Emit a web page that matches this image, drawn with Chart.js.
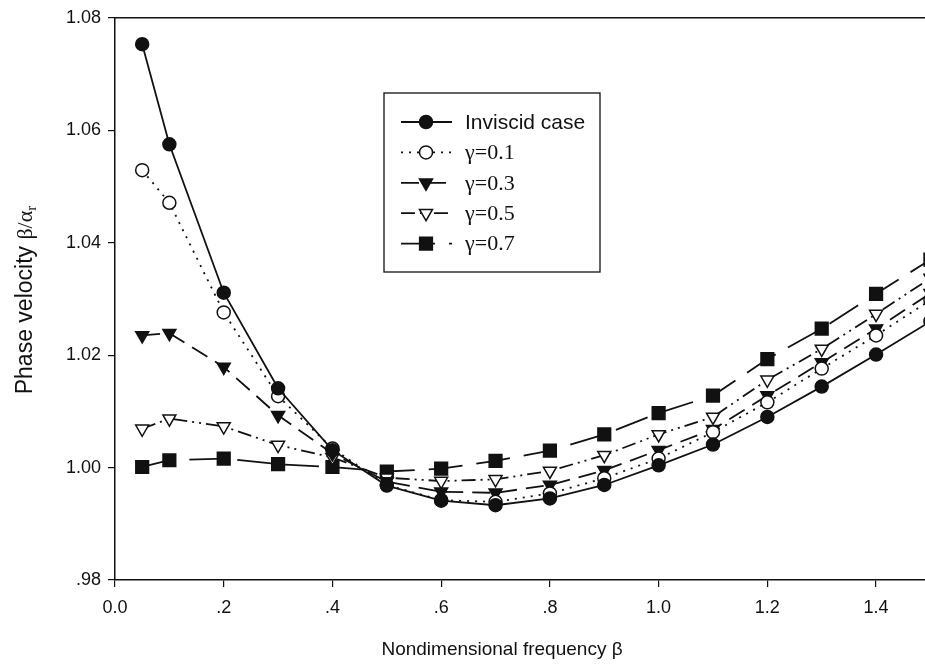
<!DOCTYPE html>
<html>
<head>
<meta charset="utf-8">
<script src="https://cdn.jsdelivr.net/npm/chart.js@4.4.0/dist/chart.umd.min.js"></script>
<style>
  html, body { margin: 0; padding: 0; background: #fff; }
  #wrap { width: 925px; height: 665px; }
</style>
</head>
<body>
<div id="wrap"><canvas id="phaseChart" width="925" height="665"></canvas></div>
<script>
// ===== DATA =====
const beta = [0.05, 0.1, 0.2, 0.3, 0.4, 0.5, 0.6, 0.7, 0.8, 0.9, 1.0, 1.1, 1.2, 1.3, 1.4, 1.5];

const inviscid = [1.0753, 1.0575, 1.0311, 1.0141, 1.0031, 0.9968, 0.9941, 0.9933, 0.9945, 0.9969, 1.0004, 1.0041, 1.0090, 1.0144, 1.0201, 1.0260];
const gamma01  = [1.0529, 1.0471, 1.0276, 1.0127, 1.0034, 0.9969, 0.9942, 0.9939, 0.9954, 0.9981, 1.0016, 1.0063, 1.0116, 1.0176, 1.0235, 1.0298];
const gamma03  = [1.0235, 1.0239, 1.0179, 1.0093, 1.0025, 0.9975, 0.9957, 0.9955, 0.9969, 0.9995, 1.0031, 1.0068, 1.0128, 1.0187, 1.0247, 1.0310];
const gamma05  = [1.0069, 1.0087, 1.0073, 1.0040, 1.0018, 0.9982, 0.9976, 0.9979, 0.9994, 1.0022, 1.0059, 1.0090, 1.0156, 1.0211, 1.0273, 1.0337];
const gamma07  = [1.0001, 1.0013, 1.0016, 1.0006, 1.0001, 0.9993, 0.9998, 1.0012, 1.0030, 1.0059, 1.0097, 1.0128, 1.0193, 1.0247, 1.0309, 1.0370];

const seriesLabels = ["Inviscid case", "\u03b3=0.1", "\u03b3=0.3", "\u03b3=0.5", "\u03b3=0.7"];
const xTicks = [0, 0.2, 0.4, 0.6, 0.8, 1.0, 1.2, 1.4];
const yTicks = [0.98, 1.00, 1.02, 1.04, 1.06, 1.08];

const INK = "#111";

// ===== HELPERS =====
function pts(ys) {
  return beta.map((b, i) => ({ x: b, y: ys[i] }));
}

function fmtX(v) {
  if (Math.abs(v) < 1e-9) return "0.0";
  const s = v.toFixed(1);
  return v < 1 ? s.substring(1) : s;
}

function fmtY(v) {
  const s = v.toFixed(2);
  return v < 1 ? s.substring(1) : s;
}

function makeSet(label, data, style, fill, dash, radius, rotation) {
  return {
    label: label,
    data: pts(data),
    borderColor: INK,
    borderWidth: 1.8,
    borderDash: dash,
    pointStyle: style,
    pointRotation: rotation || 0,
    pointRadius: radius,
    pointHoverRadius: radius,
    pointBackgroundColor: fill,
    pointBorderColor: INK,
    pointBorderWidth: 1.5,
    tension: 0,
    fill: false
  };
}

const datasets = [
  makeSet(seriesLabels[0], inviscid, "circle", INK, [], 6.5),
  makeSet(seriesLabels[1], gamma01, "circle", "#fff", [2, 6], 6.5),
  makeSet(seriesLabels[2], gamma03, "triangle", INK, [18, 9], 7.5, 180),
  makeSet(seriesLabels[3], gamma05, "triangle", "#fff", [14, 5, 2, 5, 2, 5], 7.5, 180),
  makeSet(seriesLabels[4], gamma07, "rect", INK, [34, 14], 9)
];

// ===== EXTRA DRAWING: frame top, axis titles, boxed legend =====
const decorations = {
  id: "decorations",
  afterDraw(chart) {
    const ctx = chart.ctx;
    const area = chart.chartArea;
    ctx.save();

    // top edge of the frame
    ctx.strokeStyle = INK;
    ctx.lineWidth = 1.5;
    ctx.beginPath();
    ctx.moveTo(area.left, area.top);
    ctx.lineTo(area.right, area.top);
    ctx.stroke();

    // x title
    ctx.fillStyle = INK;
    ctx.font = "19px 'Liberation Sans', Arial, sans-serif";
    ctx.textAlign = "center";
    ctx.textBaseline = "middle";
    ctx.fillText("Nondimensional frequency \u03b2", 502, 650);

    // y title with subscript
    ctx.save();
    ctx.translate(26, 300);
    ctx.rotate(-Math.PI / 2);
    ctx.textAlign = "left";
    ctx.textBaseline = "middle";
    const f1 = "23px 'Liberation Sans', Arial, sans-serif";
    const f2 = "22px 'Liberation Serif', 'Times New Roman', serif";
    const f3 = "15px 'Liberation Serif', 'Times New Roman', serif";
    const p1 = "Phase velocity ", p2 = "\u03b2/\u03b1", p3 = "r";
    ctx.font = f1; const w1 = ctx.measureText(p1).width;
    ctx.font = f2; const w2 = ctx.measureText(p2).width;
    ctx.font = f3; const w3 = ctx.measureText(p3).width;
    let x0 = -(w1 + w2 + w3) / 2;
    ctx.font = f1; ctx.fillText(p1, x0, 0); x0 += w1;
    ctx.font = f2; ctx.fillText(p2, x0, 0); x0 += w2;
    ctx.font = f3; ctx.fillText(p3, x0, 6);
    ctx.restore();

    // legend box
    const bx = 384, by = 93, bw = 216, bh = 179;
    ctx.lineWidth = 1.3;
    ctx.strokeRect(bx, by, bw, bh);

    chart.data.datasets.forEach((ds, i) => {
      const y = 122 + i * 30.4;
      ctx.save();
      ctx.strokeStyle = INK;
      ctx.lineWidth = ds.borderWidth;
      ctx.setLineDash(ds.borderDash);
      ctx.beginPath();
      ctx.moveTo(401, y);
      ctx.lineTo(452, y);
      ctx.stroke();
      ctx.restore();

      ctx.save();
      ctx.fillStyle = ds.pointBackgroundColor;
      ctx.strokeStyle = INK;
      ctx.lineWidth = ds.pointBorderWidth;
      Chart.helpers.drawPoint(ctx, {
        pointStyle: ds.pointStyle,
        rotation: ds.pointRotation,
        radius: ds.pointRadius,
        borderWidth: ds.pointBorderWidth
      }, 426, y);
      ctx.restore();

      ctx.fillStyle = INK;
      ctx.textAlign = "left";
      ctx.textBaseline = "middle";
      ctx.font = i === 0 ? "21px 'Liberation Sans', Arial, sans-serif"
                         : "22px 'Liberation Serif', 'Times New Roman', serif";
      ctx.fillText(ds.label, 465, y + 1);
    });

    ctx.restore();
  }
};

// ===== CHART =====
const ctx = document.getElementById("phaseChart").getContext("2d");

new Chart(ctx, {
  type: "line",
  data: { datasets: datasets },
  options: {
    responsive: false,
    animation: false,
    devicePixelRatio: 1,
    layout: { autoPadding: false, padding: { top: 17, right: 0, left: 0, bottom: 0 } },
    plugins: {
      legend: { display: false },
      tooltip: { enabled: false }
    },
    scales: {
      x: {
        type: "linear",
        min: 0,
        max: 1.49,
        afterBuildTicks: (scale) => { scale.ticks = xTicks.map(v => ({ value: v })); },
        afterFit: (scale) => { scale.height = 85; },
        border: { color: INK, width: 1.5 },
        grid: { drawOnChartArea: false, drawTicks: true, tickLength: 7, color: INK, lineWidth: 1.2 },
        ticks: {
          color: INK,
          padding: 10,
          maxRotation: 0,
          font: { family: "'Liberation Sans', Arial, sans-serif", size: 18 },
          callback: (v) => fmtX(v)
        }
      },
      y: {
        type: "linear",
        min: 0.98,
        max: 1.08,
        afterBuildTicks: (scale) => { scale.ticks = yTicks.map(v => ({ value: v })); },
        afterFit: (scale) => { scale.width = 115; },
        border: { color: INK, width: 1.5 },
        grid: { drawOnChartArea: false, drawTicks: true, tickLength: 7, color: INK, lineWidth: 1.2 },
        ticks: {
          color: INK,
          padding: 7,
          font: { family: "'Liberation Sans', Arial, sans-serif", size: 18 },
          callback: (v) => fmtY(v)
        }
      }
    }
  },
  plugins: [decorations]
});
</script>
</body>
</html>
